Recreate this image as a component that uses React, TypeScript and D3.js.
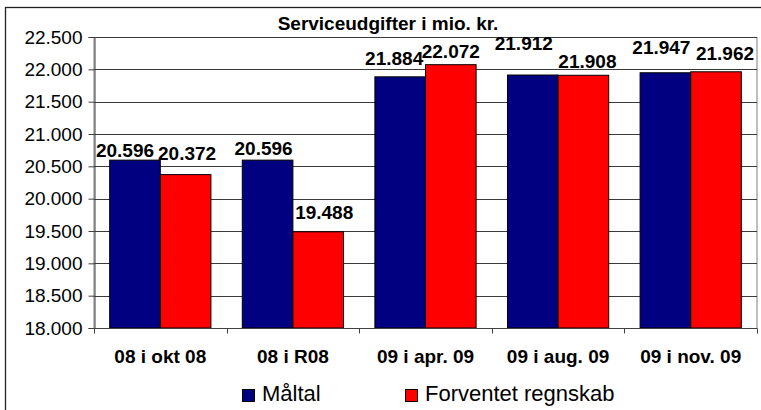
import { useEffect, useRef } from 'react';
import * as d3 from 'd3';

const categories = ['08 i okt 08', '08 i R08', '09 i apr. 09', '09 i aug. 09', '09 i nov. 09'];
const maaltal = [20596, 20596, 21884, 21912, 21947];
const forventet = [20372, 19488, 22072, 21908, 21962];
const seriesNames = ['Måltal', 'Forventet regnskab'];
const seriesColors = ['#000080', '#ff0000'];
const yTicks = [18000, 18500, 19000, 19500, 20000, 20500, 21000, 21500, 22000, 22500];
const title = 'Serviceudgifter i mio. kr.';

// labels were hand-placed in the original sheet: [dx, dy above bar top] per group/series
const labelNudge = [
  [[-10, -3], [1.5, -15]],
  [[-4, -5], [6, -13]],
  [[-6, -12], [0, -7]],
  [[-9, -25], [4, -7]],
  [[-4, -19], [9, -12]],
];

const FONT = '"Liberation Sans", Arial, sans-serif';

const App = () => {
  const svgRef = useRef<SVGSVGElement>(null);

  useEffect(() => {
    if (!svgRef.current) return;
    const svg = d3.select(svgRef.current);
    svg.selectAll('*').remove();

    const width = 761;
    const height = 410;
    const left = 94, right = 757, top = 37, bottom = 328;

    const danish = d3.formatLocale({ decimal: ',', thousands: '.', grouping: [3], currency: ['', ' kr.'] });
    const fmt = danish.format(',.0f');

    svg.attr('width', width).attr('height', height);

    // outer chart frame (runs off the right/bottom edge of the picture)
    svg.append('rect')
      .attr('x', 5.5).attr('y', 7.5)
      .attr('width', 770).attr('height', 420)
      .attr('fill', '#fff')
      .attr('stroke', '#222')
      .attr('stroke-width', 1.3);

    const y = d3.scaleLinear().domain([18000, 22500]).range([bottom, top]);
    const x0 = d3.scaleBand<string>().domain(categories).range([left, right]).padding(0);
    const x1 = d3.scaleBand<string>().domain(['0', '1']).range([0, x0.bandwidth()])
      .paddingInner(0).paddingOuter(0.31);

    // plot area border
    svg.append('rect')
      .attr('x', left).attr('y', top + 0.5)
      .attr('width', right - left).attr('height', bottom - top)
      .attr('fill', '#fff')
      .attr('stroke', '#808080')
      .attr('stroke-width', 1);

    // gridlines
    svg.append('g')
      .selectAll('line')
      .data(yTicks)
      .join('line')
      .attr('x1', left).attr('x2', right)
      .attr('y1', d => Math.round(y(d)) + 0.5)
      .attr('y2', d => Math.round(y(d)) + 0.5)
      .attr('stroke', '#3a3a3a')
      .attr('stroke-width', 1);

    // bars
    const series = [maaltal, forventet];
    const groups = svg.append('g')
      .selectAll('g')
      .data(categories)
      .join('g')
      .attr('transform', d => `translate(${x0(d)},0)`);

    groups.selectAll('rect')
      .data((_, i) => series.map((s, k) => ({ k, v: s[i] })))
      .join('rect')
      .attr('x', d => x1(String(d.k))!)
      .attr('y', d => y(d.v))
      .attr('width', x1.bandwidth())
      .attr('height', d => bottom - y(d.v))
      .attr('fill', d => seriesColors[d.k])
      .attr('stroke', '#000')
      .attr('stroke-width', 1);

    // axes
    const yAxis = svg.append('g').attr('transform', `translate(${left + 0.5},0)`)
      .call(d3.axisLeft(y).tickValues(yTicks).tickSize(6).tickPadding(6).tickFormat(d => fmt(d as number)));
    yAxis.select('.domain').attr('stroke', '#404040');
    yAxis.selectAll('.tick line').attr('stroke', '#404040');
    yAxis.selectAll('.tick text')
      .attr('font-family', FONT)
      .attr('font-size', 19)
      .attr('fill', '#000');

    const xAxis = svg.append('g').attr('transform', `translate(0,${bottom + 0.5})`);
    xAxis.append('line')
      .attr('x1', left).attr('x2', right)
      .attr('stroke', '#404040');
    xAxis.selectAll('.xtick')
      .data(d3.range(categories.length + 1))
      .join('line')
      .attr('class', 'xtick')
      .attr('x1', i => Math.round(left + i * x0.step()) + 0.5)
      .attr('x2', i => Math.round(left + i * x0.step()) + 0.5)
      .attr('y1', 0).attr('y2', 5)
      .attr('stroke', '#404040');
    xAxis.selectAll('text')
      .data(categories)
      .join('text')
      .attr('x', d => x0(d)! + x0.bandwidth() / 2)
      .attr('y', 34)
      .attr('text-anchor', 'middle')
      .attr('font-family', FONT)
      .attr('font-size', 19)
      .attr('font-weight', 'bold')
      .text(d => d);

    // value labels
    groups.selectAll('text')
      .data((_, i) => series.map((s, k) => ({ k, v: s[i], n: labelNudge[i][k] })))
      .join('text')
      .attr('x', d => x1(String(d.k))! + x1.bandwidth() / 2 + d.n[0])
      .attr('y', d => y(d.v) + d.n[1])
      .attr('text-anchor', 'middle')
      .attr('font-family', FONT)
      .attr('font-size', 19)
      .attr('font-weight', 'bold')
      .text(d => fmt(d.v));

    // title
    svg.append('text')
      .attr('x', 388).attr('y', 30)
      .attr('text-anchor', 'middle')
      .attr('font-family', FONT)
      .attr('font-size', 19)
      .attr('font-weight', 'bold')
      .text(title);

    // legend
    const legendX = [242, 405];
    const legend = svg.append('g')
      .selectAll('g')
      .data(seriesNames)
      .join('g')
      .attr('transform', (_, i) => `translate(${legendX[i]},389)`);
    legend.append('rect')
      .attr('x', 0.5).attr('y', 0.5)
      .attr('width', 12).attr('height', 12)
      .attr('fill', (_, i) => seriesColors[i])
      .attr('stroke', '#000');
    legend.append('text')
      .attr('x', 20).attr('y', 12)
      .attr('font-family', FONT)
      .attr('font-size', 22)
      .text(d => d);
  }, []);

  return (
    <div style={{ position: 'absolute', left: 0, top: 0 }}>
      <svg ref={svgRef}></svg>
    </div>
  );
};

export default App;
